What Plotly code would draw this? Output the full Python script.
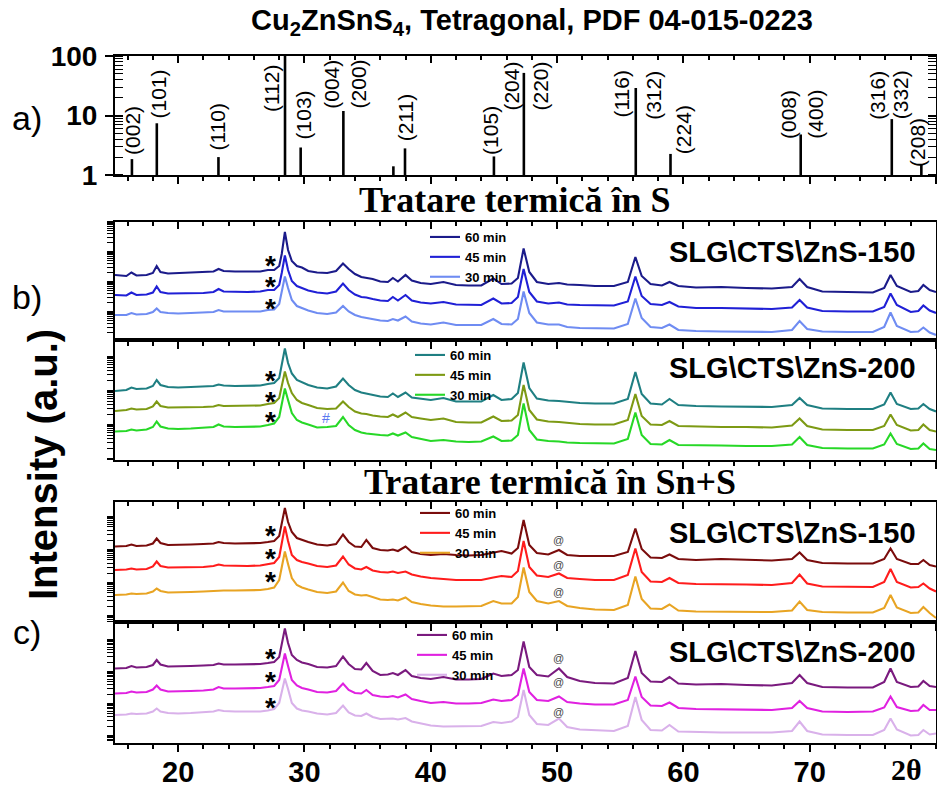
import plotly.graph_objects as go

# ---------------- data ----------------
two_theta = [15.0, 15.9, 16.3, 16.7, 17.5, 18.0, 18.3, 18.6, 19.2, 20.0,
             21.0, 22.0, 22.8, 23.2, 23.6, 24.5, 25.5, 26.5, 27.1, 27.6,
             28.0, 28.2, 28.45, 28.7, 29.0, 29.4, 29.8, 30.3, 31.0, 31.8,
             32.5, 33.05, 33.5, 34.0, 34.5, 34.9, 35.4, 36.0, 36.6, 37.0,
             37.4, 38.0, 38.5, 39.2, 40.0, 41.0, 42.0, 43.0, 44.0, 44.95,
             45.6, 46.4, 46.9, 47.35, 47.8, 48.4, 49.3, 50.15, 50.8, 51.8,
             53.0, 54.5, 55.6, 56.2, 56.7, 57.4, 58.3, 58.9, 59.6, 61.0,
             63.0, 65.0, 67.0, 68.6, 69.2, 69.8, 71.0, 73.0, 75.0, 75.9,
             76.4, 76.9, 78.0, 78.6, 79.0, 79.5, 80.0]

b1_60 = [65, 64, 67.5, 64.5, 65, 67, 74, 68, 66.5, 67,
         67.5, 68, 68.5, 71, 69, 68.5, 68.5, 68.5, 70, 70,
         74, 86, 108, 90, 79, 74, 72.5, 69, 67.5, 67,
         69, 76.5, 71, 66, 63, 62, 61, 58.5, 58, 62,
         58.5, 65, 59.5, 57, 56, 58, 55, 54.5, 54.5, 61.5,
         56, 56.5, 62, 91.5, 68, 58, 56, 57, 55.5, 55,
         54, 54, 58, 83, 64, 56, 54.5, 58, 54, 52.5,
         53, 52, 51.5, 53, 61, 53, 48.5, 48, 47.5, 52,
         65, 54, 48, 49, 55, 50, 48]
b1_45 = [45, 44.5, 47.5, 45, 45.5, 47.5, 53.5, 48, 46.5, 46.5,
         47, 47, 48, 51, 48.5, 48, 48, 48.5, 50, 50,
         55, 67, 84.5, 70, 59, 54, 52, 49.5, 47.5, 46.5,
         48.5, 56.5, 50, 45.5, 43, 42.5, 41, 39.5, 39, 43,
         39.5, 45, 39.5, 37.5, 36.5, 38, 35.5, 35, 35, 41.5,
         36.5, 37, 43, 71, 48, 38.5, 36.5, 37.5, 35.5, 35,
         34.5, 34.5, 38.5, 63.5, 44, 36, 35, 38, 33.5, 32,
         32, 31.5, 31, 32.5, 40, 32.5, 29, 28.5, 28.5, 33,
         46.5, 35, 28, 29, 34.5, 29.5, 27]
b1_30 = [25, 25, 27, 25.5, 26, 28, 31.5, 28, 27, 26.5,
         27, 27.5, 28, 30, 28.5, 28.5, 28.5, 28.5, 30, 30.5,
         36, 48, 63.5, 52, 40, 34, 32, 29.5, 27, 26,
         27.5, 34, 28.5, 25, 23, 22, 21, 19.5, 19, 21,
         19.5, 23.5, 18.5, 16.5, 15.5, 17.5, 15, 15, 15, 21,
         16, 15.5, 21, 48.5, 27, 17.5, 15.5, 15.5, 13, 12,
         11.5, 11.5, 16, 41.5, 22, 13, 12, 15.5, 10, 9,
         8.5, 8.5, 8, 10, 19, 11, 8.5, 8, 8, 13,
         27.5, 14, 8, 8.5, 12.5, 7.5, 5]

b2_60 = [69, 70, 72.5, 71, 71.5, 74, 80, 75, 73, 72.5,
         73, 73.5, 74, 75.5, 74.5, 74, 74, 74.5, 76, 77,
         82, 94, 111.5, 97, 86.5, 80, 77.5, 75, 72.5, 71.5,
         73.5, 81.5, 75, 70, 67.5, 66.5, 64.5, 63.5, 63, 66.5,
         63, 67.5, 62.5, 61, 60, 62, 58.5, 58.5, 58.5, 65,
         60, 61, 67, 97.5, 72, 61.5, 59.5, 59, 58, 57,
         56.5, 56.5, 61, 88, 66, 56.5, 55.5, 61, 55, 54,
         53.5, 53.5, 53, 55, 62, 55, 51.5, 51, 51, 55.5,
         67.5, 56, 51, 51.5, 56, 51, 48.5]
b2_45 = [49, 50, 51.5, 50.5, 51, 53.5, 58.5, 54, 52.5, 52.5,
         53, 53, 53.5, 55, 54, 54, 54, 54.5, 56, 57,
         62, 73, 88.5, 77, 67, 60, 57, 55, 52, 51,
         51.5, 58.5, 53, 48.5, 46.5, 46, 44.5, 43.5, 43, 45.5,
         43, 47.5, 43, 41.5, 40, 41.5, 38, 37.5, 37.5, 43.5,
         39, 39.5, 45, 75, 50, 40.5, 38.5, 38, 37, 36,
         35.5, 35.5, 40, 66, 44, 35.5, 35, 39, 34, 33.5,
         33, 33, 32.5, 34.5, 41.5, 34, 30.5, 30, 30, 34,
         45.5, 35, 29.5, 30, 35.5, 30, 28.5]
b2_30 = [28.5, 29, 30.5, 29.5, 30.5, 33, 38.5, 33.5, 31.5, 31,
         31.5, 32, 33, 35.5, 33.5, 33, 33, 33.5, 35, 36.5,
         43, 56, 71.5, 60, 47, 40, 37.5, 35.5, 32.5, 33,
         34, 43, 35, 30, 27.5, 26.5, 25.5, 25, 24.5, 26.5,
         24.5, 27.5, 23, 21, 19, 20, 18.5, 18, 18.5, 23.5,
         19, 19.5, 25, 56.5, 30, 20.5, 19, 18.5, 17.5, 17,
         16.5, 16.5, 21, 47.5, 25, 16, 15.5, 20, 15, 14.5,
         14.5, 14, 14, 15.5, 23, 15, 12, 11.5, 11.5, 15.5,
         26.5, 16, 11, 11.5, 16.5, 11, 10]

c1_60 = [75.5, 76, 77.5, 76, 76.5, 78.5, 83.5, 79, 77, 77,
         77.5, 78, 78.5, 80, 79, 78.5, 78.5, 79, 80, 81,
         86, 98, 114, 100, 90, 84, 82, 80, 77.5, 76.5,
         78, 87.5, 80, 75.5, 75, 82, 74, 72, 71.5, 72.5,
         71, 75.5, 70, 68, 67, 68, 67, 66.5, 67, 69.5,
         71, 68.5, 74, 102, 77, 69, 67.5, 72, 67, 66,
         66, 66, 70, 93.5, 73, 64.5, 64, 67.5, 63, 62,
         63, 62, 61.5, 63, 69.5, 62, 59, 58.5, 58.5, 63,
         73.5, 63, 58, 58, 62, 57, 55.5]
c1_45 = [52, 52.5, 53.5, 52.5, 53, 55.5, 60.5, 56, 54.5, 54.5,
         55, 55, 56, 57.5, 56.5, 56, 56, 56.5, 58, 59,
         65, 79, 95.5, 81, 67, 62, 60, 58.5, 56, 55,
         56.5, 65.5, 57.5, 53.5, 52.5, 55, 51.5, 50, 49.5, 50.5,
         49, 50.5, 47.5, 45.5, 44, 43, 42, 42, 42, 44.5,
         46, 45, 51, 81, 55, 46.5, 45, 48.5, 44, 43,
         42, 42, 47, 73.5, 50, 40.5, 40, 44, 39, 38,
         38, 37.5, 37, 39, 47.5, 38.5, 35.5, 35, 35, 40,
         53, 40, 34.5, 35, 38.5, 33.5, 30.5]
c1_30 = [27, 27.5, 28.5, 28, 28.5, 30.5, 33.5, 31, 29.5, 29.5,
         30, 30.5, 31, 32, 31.5, 31.5, 31.5, 32, 33, 34.5,
         42, 56, 70.5, 58, 44, 37, 34.5, 32.5, 30, 29,
         30.5, 39.5, 31, 27.5, 26.5, 27, 25, 22.5, 22, 22.5,
         21.5, 24.5, 20, 18, 16.5, 15.5, 15.5, 15.5, 16, 21,
         18.5, 18.5, 25, 54.5, 30, 21, 18.5, 21, 16, 14,
         12.5, 12, 17, 45.5, 23, 13.5, 13, 17.5, 11.5, 10.5,
         10.5, 10, 10, 11.5, 20.5, 12, 10, 9.5, 9.5, 14,
         27, 14.5, 9, 9.5, 15, 9, 4]

c2_60 = [74.5, 75, 77, 75.5, 76, 78, 83, 78.5, 76.5, 76.5,
         77, 77.5, 78, 79.5, 78.5, 78.5, 78.5, 79, 80, 81,
         86, 98, 114.5, 100, 88, 83, 80.5, 79, 76, 75.5,
         77, 86.5, 79, 74, 73.5, 80, 72, 68, 68.5, 70,
         68, 73, 67, 65, 64, 66, 63.5, 63.5, 64, 69.5,
         67, 68, 73, 101.5, 76, 68, 66.5, 74.5, 66, 62,
         60, 59.5, 65, 92, 70, 61.5, 61, 66, 59.5, 58.5,
         59, 58, 57.5, 60, 68, 60, 56, 55.5, 55.5, 61,
         74.5, 61, 56, 56.5, 62, 57, 56]
c2_45 = [49.5, 50, 51.5, 50.5, 51, 53.5, 57.5, 53.5, 51.5, 51.5,
         52, 52.5, 53.5, 56, 54.5, 54.5, 54.5, 55, 56, 57,
         63, 75, 89.5, 77, 63, 57.5, 55, 53.5, 51, 50.5,
         52, 59.5, 53, 50, 49.5, 53, 48, 46.5, 46, 47,
         45.5, 48.5, 44, 42, 40, 41, 39.5, 39.5, 40, 43.5,
         42, 43, 48, 74.5, 51, 43, 42, 46.5, 41, 39.5,
         38.5, 38.5, 43, 66.5, 46, 37.5, 37, 40.5, 35, 34,
         33.5, 33, 33, 35, 42, 35, 31.5, 31, 31.5, 35.5,
         46.5, 36, 32, 32.5, 38, 33, 33]
c2_30 = [28, 28.5, 29.5, 29, 29.5, 31.5, 34.5, 31.5, 30, 29.5,
         30, 30.5, 31.5, 33, 32, 31.5, 31.5, 31.5, 32.5, 34,
         40, 52, 64.5, 54, 40, 34.5, 32.5, 31.5, 29.5, 28.5,
         30, 37.5, 30.5, 27.5, 27, 29.5, 26, 24, 24, 24.5,
         23.5, 25, 21.5, 19.5, 17.5, 16.5, 16.5, 16.5, 17, 21,
         20, 21.5, 26, 53, 28, 19, 18, 24.5, 16, 13.5,
         12.5, 12, 17, 46, 23, 13, 12.5, 18, 11.5, 11,
         10.5, 10.5, 10.5, 12, 21.5, 12, 8.5, 8, 8, 13,
         24.5, 13.5, 7.5, 8, 13, 8.5, 9.5]

series_names = ["60 min", "45 min", "30 min"]

# PDF 04-015-0223 reference pattern (stick positions and relative intensities)
pdf_pos = [16.34, 18.31, 23.19, 28.46, 29.70, 33.08, 37.04, 37.96, 45.00,
           47.37, 56.23, 58.98, 69.29, 76.50, 78.84]
pdf_int = [1.85, 7.4, 2.0, 100, 2.9, 11.9, 1.4, 2.8, 2.05,
           52, 29, 2.26, 4.8, 8.7, 1.5]
hkl_text = ["(002)", "(101)", "(110)", "(112)", "(103)", "(004)", "(200)", "(211)",
            "(105)", "(204)", "(220)", "(116)", "(312)", "(224)", "(008)", "(400)",
            "(316)", "(332)", "(208)"]
hkl_x = [16.34, 18.44, 23.19, 27.41, 29.92, 32.08, 34.27, 37.96,
         44.68, 46.40, 48.69, 55.10, 57.66, 59.98, 68.28, 70.39,
         75.40, 77.25, 78.57]
hkl_logy = [0.756, 1.36, 0.807, 1.457, 1.008, 1.529, 1.529, 0.953,
            0.756, 1.496, 1.496, 1.36, 1.345, 0.756, 1.025, 1.025,
            1.345, 1.345, 0.555]

x_tick_vals = [20, 30, 40, 50, 60, 70]
x_tick_text = ["20", "30", "40", "50", "60", "70"]

# ---------------- styling ----------------
FONT = "Liberation Sans"
SERIF = "Liberation Serif"
W, H = 937, 787
ML, MR, MT, MB = 115, 1, 56, 44
PW, PH = W - ML - MR, H - MT - MB


def py(ypx):
    return (H - MB - ypx) / PH


def px(xpx):
    return (xpx - ML) / PW


panels = [  # (top px, bottom px)
    (56, 175), (221.7, 340), (340, 460), (502, 622), (622, 743)
]
colors = [
    ["#1b1b8a", "#2020d6", "#6f8cf2"],
    ["#1f7f82", "#7d9a14", "#27d827"],
    ["#7a0c0c", "#ff1c1c", "#e8a423"],
    ["#7a1a7e", "#e021e0", "#d9b1ea"],
]
data_sets = [
    [b1_60, b1_45, b1_30],
    [b2_60, b2_45, b2_30],
    [c1_60, c1_45, c1_30],
    [c2_60, c2_45, c2_30],
]
legend_names = ["legend", "legend2", "legend3", "legend4"]
legend_pos = [(425, 222), (410, 340), (415, 498), (412, 620)]
major_y = [[28.3, 58.3, 88.3, 118.3], [1, 35, 69, 103], [6, 39, 72, 105], [7, 39, 71, 103]]
decade = [30, 34, 33, 32]
log_frac = [0.301, 0.477, 0.602, 0.699, 0.778, 0.845, 0.903, 0.954]

fig = go.Figure()

# stick pattern
sx, sy = [], []
for p, v in zip(pdf_pos, pdf_int):
    sx += [p, p, None]
    sy += [1, v, None]
fig.add_trace(go.Scatter(x=sx, y=sy, mode="lines", line=dict(color="black", width=2.6),
                         showlegend=False, xaxis="x", yaxis="y"))

for i, (traces, cols) in enumerate(zip(data_sets, colors)):
    ax = str(i + 2)
    for vals, col, name in zip(traces, cols, series_names):
        fig.add_trace(go.Scatter(x=two_theta, y=vals, mode="lines", name=name,
                                 line=dict(color=col, width=2.1),
                                 xaxis="x" + ax, yaxis="y" + ax,
                                 legend=legend_names[i]))

# dummy traces for the top tick axes
for k in range(5):
    fig.add_trace(go.Scatter(x=[None], y=[None], showlegend=False, hoverinfo="skip",
                             xaxis="x" + str(k + 6), yaxis="y" if k == 0 else "y" + str(k + 1)))

layout = dict(
    width=W, height=H, margin=dict(l=ML, r=MR, t=MT, b=MB, autoexpand=False),
    paper_bgcolor="white", plot_bgcolor="white",
    font=dict(family=FONT, color="black"),
)

for k, (top, bot) in enumerate(panels):
    dom = [max(0, py(bot)), min(1, py(top))]
    xname = "xaxis" if k == 0 else "xaxis" + str(k + 1)
    yname = "yaxis" if k == 0 else "yaxis" + str(k + 1)
    yref = "y" if k == 0 else "y" + str(k + 1)
    xref = "x" if k == 0 else "x" + str(k + 1)
    xa = dict(range=[15, 80], domain=[0, 1], anchor=yref, showline=True, linewidth=2,
              linecolor="black", mirror=True, ticks="outside", ticklen=7, tickwidth=2,
              tickcolor="black", tick0=0, dtick=10, showgrid=False, zeroline=False,
              automargin=False,
              minor=dict(dtick=2, ticks="outside", ticklen=4, tickwidth=1.5, tickcolor="black"),
              showticklabels=False)
    if k == 4:
        xa.update(showticklabels=True, tickmode="array", tickvals=x_tick_vals,
                  ticktext=x_tick_text, tickfont=dict(size=29, weight="bold", family=FONT),
                  ticklabelstandoff=-5)
    layout[xname] = xa
    layout["xaxis" + str(k + 6)] = dict(range=[15, 80], overlaying=xref, anchor=yref, side="top",
                                        ticks="inside", ticklen=7, tickwidth=2, tickcolor="black",
                                        tick0=0, dtick=10, showgrid=False, zeroline=False,
                                        showline=False, showticklabels=False, automargin=False,
                                        minor=dict(dtick=2, ticks="inside", ticklen=4,
                                                   tickwidth=1.5, tickcolor="black"))
    if k == 0:
        layout[yname] = dict(type="log", range=[0, 2], domain=dom, anchor=xref, showline=True,
                             linewidth=2, linecolor="black", mirror="allticks", ticks="outside",
                             ticklen=8, tickwidth=2, tickcolor="black", tickmode="array",
                             tickvals=[1, 10, 100], ticktext=["1", "10", "100"],
                             tickfont=dict(size=28, weight="bold", family=FONT),
                             ticklabelstandoff=2, showgrid=False, zeroline=False, automargin=False,
                             minor=dict(tickmode="array",
                                        tickvals=[2, 3, 4, 5, 6, 7, 8, 9, 20, 30, 40, 50, 60, 70, 80, 90],
                                        ticks="inside", ticklen=4, tickwidth=1.2, tickcolor="black"))
    else:
        j = k - 1
        mj = major_y[j]
        mins = []
        for m in [mj[0] - decade[j]] + mj[:-1]:
            for f in log_frac:
                v = m + f * decade[j]
                if 0 < v < bot - top:
                    mins.append(v)
        layout[yname] = dict(range=[0, bot - top], domain=dom, anchor=xref, showline=True,
                             linewidth=2, linecolor="black", mirror="allticks", ticks="outside",
                             ticklen=6, tickwidth=2, tickcolor="black", tickmode="array",
                             tickvals=mj, showticklabels=False, showgrid=False, zeroline=False,
                             automargin=False,
                             minor=dict(tickmode="array", tickvals=mins, ticks="outside",
                                        ticklen=3, tickwidth=1.2, tickcolor="black"))
        lx, ly = legend_pos[j]
        layout[legend_names[j]] = dict(x=px(lx), y=py(ly), xanchor="left", yanchor="top",
                                       bgcolor="rgba(0,0,0,0)", borderwidth=0,
                                       font=dict(size=13, weight="bold", family=FONT),
                                       tracegroupgap=0)

fig.update_layout(**layout)


def note(text, x, y, size, family=FONT, weight="normal", xanchor="center", **kw):
    return dict(text=text, xref="paper", yref="paper", x=x, y=y, showarrow=False,
                xanchor=xanchor, yanchor="middle",
                font=dict(size=size, family=family, weight=weight), **kw)


ann = []
# title
ann.append(note("Cu<sub>2</sub>ZnSnS<sub>4</sub>, Tetragonal, PDF 04-015-0223",
                px(532), py(22), 29, weight="bold"))
# hkl labels
for t, xv, yv in zip(hkl_text, hkl_x, hkl_logy):
    ann.append(dict(text=t, x=xv, y=yv, xref="x", yref="y", textangle=-90, showarrow=False,
                    xanchor="center", yanchor="middle", font=dict(size=21, family=FONT)))
# section titles
ann.append(note("Tratare termică în S", px(515), py(200), 36, family=SERIF, weight="bold"))
ann.append(note("Tratare termică în Sn+S", px(550), py(482), 36, family=SERIF, weight="bold"))
# sample labels
for t, yy in zip(["SLG\\CTS\\ZnS-150", "SLG\\CTS\\ZnS-200", "SLG\\CTS\\ZnS-150", "SLG\\CTS\\ZnS-200"],
                 [252, 368, 533, 652]):
    ann.append(note(t, px(918), py(yy), 29, weight="bold", xanchor="right"))
# panel letters
for t, yy in zip(["a)", "b)", "c)"], [118, 297, 632]):
    ann.append(note(t, px(27), py(yy), 34))
# y title
ann.append(note("Intensity (a.u.)", px(43), py(465), 40, weight="bold", textangle=-90))
# 2theta label
ann.append(dict(text="2θ", xref="x5", yref="paper", x=77.7, y=py(769), showarrow=False,
                xanchor="center", yanchor="middle",
                font=dict(size=30, weight="bold", family=SERIF)))
# stars
star_y = [[80, 58.3, 37], [85, 63.3, 43.3], [92, 68.7, 45.3], [89.7, 66.3, 40.7]]
for j, ys in enumerate(star_y):
    for yv in ys:
        ann.append(dict(text="*", x=27.3, y=yv, xref="x" + str(j + 2), yref="y" + str(j + 2),
                        showarrow=False, yshift=-5, font=dict(size=28, weight="bold", family=FONT)))
# '#'
ann.append(dict(text="#", x=31.7, y=42, xref="x3", yref="y3", showarrow=False,
                font=dict(size=14, color="#5b78f0", family=FONT)))
# '@'
for j, ys in zip([2, 3], [[82, 57, 30.3], [85.3, 61.3, 31.3]]):
    for yv in ys:
        ann.append(dict(text="@", x=50.15, y=yv, xref="x" + str(j + 2), yref="y" + str(j + 2),
                        showarrow=False, font=dict(size=11, color="#444444", family=FONT)))

fig.update_layout(annotations=ann)
fig.write_html("out.html")
